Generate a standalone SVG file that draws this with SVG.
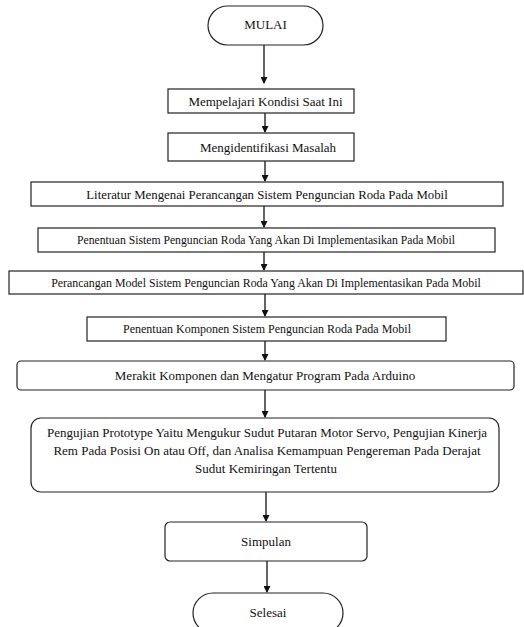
<svg xmlns="http://www.w3.org/2000/svg" width="524" height="627" viewBox="0 0 524 627">
<defs>
<marker id="ah" markerWidth="7" markerHeight="7" refX="6" refY="3.5" orient="auto" markerUnits="userSpaceOnUse">
<path d="M0,0 L7,3.5 L0,7 Z" fill="#111"/>
</marker>
<style>
.b{fill:#fff;stroke:#222;stroke-width:1.2}
.t{font-family:'Liberation Serif','DejaVu Serif',serif;font-size:13px;fill:#111;text-anchor:middle}
.s{font-size:11.7px}
.c{stroke:#111;stroke-width:1.3;fill:none;marker-end:url(#ah)}
</style>
</defs>
<rect width="524" height="627" fill="#fff"/>
<g id="connectors">
<line class="c" x1="264" y1="45" x2="264" y2="83"/>
<line class="c" x1="265" y1="113" x2="265" y2="132"/>
<line class="c" x1="265" y1="161" x2="265" y2="181"/>
<line class="c" x1="264" y1="206" x2="264" y2="227"/>
<line class="c" x1="264" y1="252" x2="264" y2="270"/>
<line class="c" x1="265" y1="294" x2="265" y2="316"/>
<line class="c" x1="265" y1="341" x2="265" y2="360"/>
<line class="c" x1="265" y1="390" x2="265" y2="417"/>
<line class="c" x1="266" y1="492" x2="266" y2="521"/>
<line class="c" x1="267" y1="561" x2="267" y2="592"/>
</g>
<g id="mulai">
<rect class="b" x="208" y="6" width="115" height="39" rx="19.5"/>
<text class="t" x="265.5" y="29">MULAI</text>
</g>
<g id="n1">
<rect class="b" x="168" y="89" width="186" height="24"/>
<text class="t" x="265.5" y="105.5">Mempelajari Kondisi Saat Ini</text>
</g>
<g id="n2">
<rect class="b" x="168" y="133" width="186" height="28"/>
<text class="t" x="268" y="151.5">Mengidentifikasi Masalah</text>
</g>
<g id="n3">
<rect class="b" x="31" y="182" width="472" height="24"/>
<text class="t" x="267" y="198.5" style="font-size:12.8px">Literatur Mengenai Perancangan Sistem Penguncian Roda Pada Mobil</text>
</g>
<g id="n4">
<rect class="b" x="38" y="228" width="457" height="24"/>
<text class="t s" x="266" y="244">Penentuan Sistem Penguncian Roda Yang Akan Di Implementasikan Pada Mobil</text>
</g>
<g id="n5">
<rect class="b" x="9" y="271" width="514" height="23"/>
<text class="t" x="266" y="286.5" style="font-size:11.9px">Perancangan Model Sistem Penguncian Roda Yang Akan Di Implementasikan Pada Mobil</text>
</g>
<g id="n6">
<rect class="b" x="87" y="317" width="359" height="24"/>
<text class="t" x="267" y="333" style="font-size:12px">Penentuan Komponen Sistem Penguncian Roda Pada Mobil</text>
</g>
<g id="n7">
<rect class="b" x="17" y="361" width="497" height="29" rx="4"/>
<text class="t" x="265" y="380">Merakit Komponen dan Mengatur Program Pada Arduino</text>
</g>
<g id="n8">
<rect class="b" x="31" y="418" width="468" height="74" rx="10"/>
<text class="t" x="267" y="437">Pengujian Prototype Yaitu Mengukur Sudut Putaran Motor Servo, Pengujian Kinerja</text>
<text class="t" x="267" y="455">Rem Pada Posisi On atau Off, dan Analisa Kemampuan Pengereman Pada Derajat</text>
<text class="t" x="266" y="473">Sudut Kemiringan Tertentu</text>
</g>
<g id="n9">
<rect class="b" x="165" y="522" width="202" height="39" rx="5"/>
<text class="t" x="266" y="546">Simpulan</text>
</g>
<g id="selesai">
<rect class="b" x="193" y="593" width="150" height="40" rx="20"/>
<text class="t" x="268" y="617">Selesai</text>
</g>
</svg>
